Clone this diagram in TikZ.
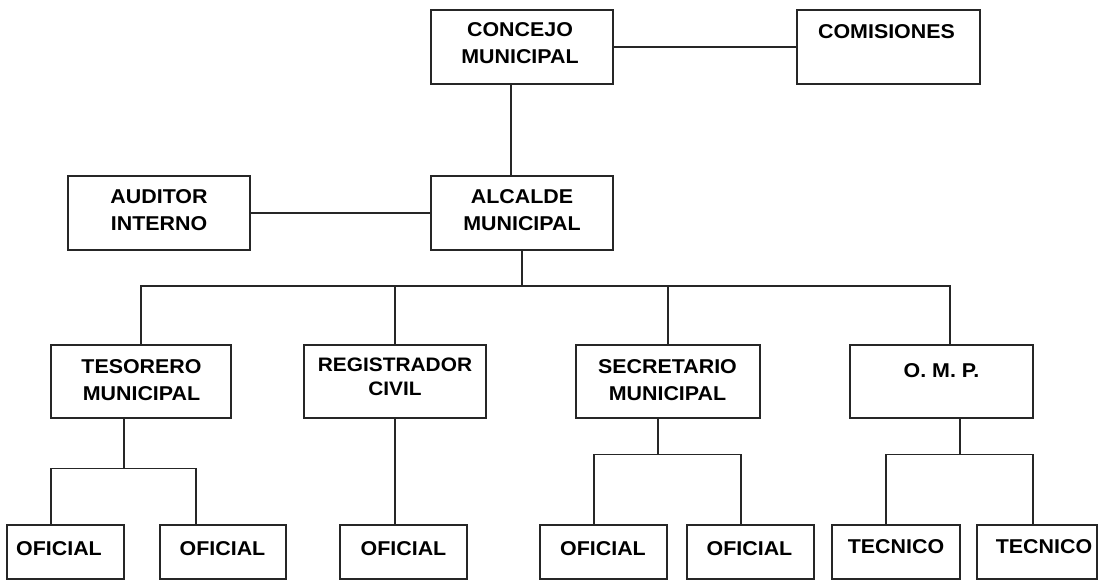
\documentclass[tikz,border=0pt]{standalone}
\usepackage{fontspec}
\setmainfont[FakeStretch=1.07]{Liberation Sans}
\usetikzlibrary{calc}
\begin{document}
\begin{tikzpicture}[x=1pt,y=-1pt,
  box/.style={draw=black!85,line width=1.4pt,rectangle,inner sep=0pt},
  txt/.style={anchor=base,align=center,inner sep=0pt,font=\fontsize{20}{27}\selectfont\bfseries},
  txts/.style={anchor=base,align=center,inner sep=0pt,font=\fontsize{19.5}{24}\selectfont\bfseries},
  wire/.style={draw=black!85,line width=1.4pt}]
\useasboundingbox (0,0) rectangle (1103,580);
% boxes
\node[box,minimum width=182pt,minimum height=74pt] (concejo) at (522,47) {};
\node[box,minimum width=183pt,minimum height=74pt] (comisiones) at (888.5,47) {};
\node[box,minimum width=182pt,minimum height=74pt] (auditor) at (159,213) {};
\node[box,minimum width=182pt,minimum height=74pt] (alcalde) at (522,213) {};
\node[box,minimum width=180pt,minimum height=73pt] (tesorero) at (141,381.5) {};
\node[box,minimum width=182pt,minimum height=73pt] (registrador) at (395,381.5) {};
\node[box,minimum width=184pt,minimum height=73pt] (secretario) at (668,381.5) {};
\node[box,minimum width=183pt,minimum height=73pt] (omp) at (941.5,381.5) {};
\node[box,minimum width=117pt,minimum height=54pt] (ofi1) at (65.5,552) {};
\node[box,minimum width=126pt,minimum height=54pt] (ofi2) at (223,552) {};
\node[box,minimum width=127pt,minimum height=54pt] (ofi3) at (403.5,552) {};
\node[box,minimum width=127pt,minimum height=54pt] (ofi4) at (603.5,552) {};
\node[box,minimum width=127pt,minimum height=54pt] (ofi5) at (750.5,552) {};
\node[box,minimum width=128pt,minimum height=54pt] (tec1) at (896,552) {};
\node[box,minimum width=120pt,minimum height=54pt] (tec2) at (1037,552) {};
% texts (base anchor = baseline of last line)
\node[txt] (concejo-t) at (520,64) {CONCEJO\\MUNICIPAL};
\node[txt] (comisiones-t) at (886.5,39) {COMISIONES};
\node[txt] (auditor-t) at (159,231) {AUDITOR\\INTERNO};
\node[txt] (alcalde-t) at (522,231) {ALCALDE\\MUNICIPAL};
\node[txt] (tesorero-t) at (141.5,400) {TESORERO\\MUNICIPAL};
\node[txts] (registrador-t) at (395,395) {REGISTRADOR\\CIVIL};
\node[txt] (secretario-t) at (667.5,400) {SECRETARIO\\MUNICIPAL};
\node[txt] (omp-t) at (941.5,377) {O. M. P.};
\node[txt] (ofi1-t) at (59,555) {OFICIAL};
\node[txt] (ofi2-t) at (222.5,555) {OFICIAL};
\node[txt] (ofi3-t) at (403.5,555) {OFICIAL};
\node[txt] (ofi4-t) at (603,555) {OFICIAL};
\node[txt] (ofi5-t) at (749.5,555) {OFICIAL};
\node[txt] (tec1-t) at (896,553) {TECNICO};
\node[txt] (tec2-t) at (1044,553) {TECNICO};
% connectors
\coordinate (bus) at (0,286);
\draw[wire] (concejo.east) -- (comisiones.west);
\draw[wire] ([xshift=-11pt]concejo.south) -- ([xshift=-11pt]alcalde.north);
\draw[wire] (auditor.east) -- (alcalde.west);
\draw[wire] (alcalde.south) -- (alcalde.south |- bus);
\draw[wire] (tesorero.north) |- ([xshift=8.5pt]omp.north |- bus) -- ([xshift=8.5pt]omp.north);
\draw[wire] (registrador.north) -- (registrador.north |- bus);
\draw[wire] (secretario.north) -- (secretario.north |- bus);
% tesorero branch
\draw[wire] ([xshift=-17pt]tesorero.south) -- ([xshift=-17pt]tesorero.south |- 0,469);
\draw[wire] ([xshift=-14.5pt]ofi1.north) -- ++(0,-56) -| ([xshift=-27pt]ofi2.north);
% registrador branch
\draw[wire] (registrador.south) -- (registrador.south |- ofi3.north);
% secretario branch
\draw[wire] ([xshift=-10pt]secretario.south) -- ([xshift=-10pt]secretario.south |- 0,455);
\draw[wire] ([xshift=-9.5pt]ofi4.north) -- ++(0,-70) -| ([xshift=-9.5pt]ofi5.north);
% omp branch
\draw[wire] ([xshift=18.5pt]omp.south) -- ([xshift=18.5pt]omp.south |- 0,455);
\draw[wire] ([xshift=-10pt]tec1.north) -- ++(0,-70) -| ([xshift=-4pt]tec2.north);
\end{tikzpicture}
\end{document}
